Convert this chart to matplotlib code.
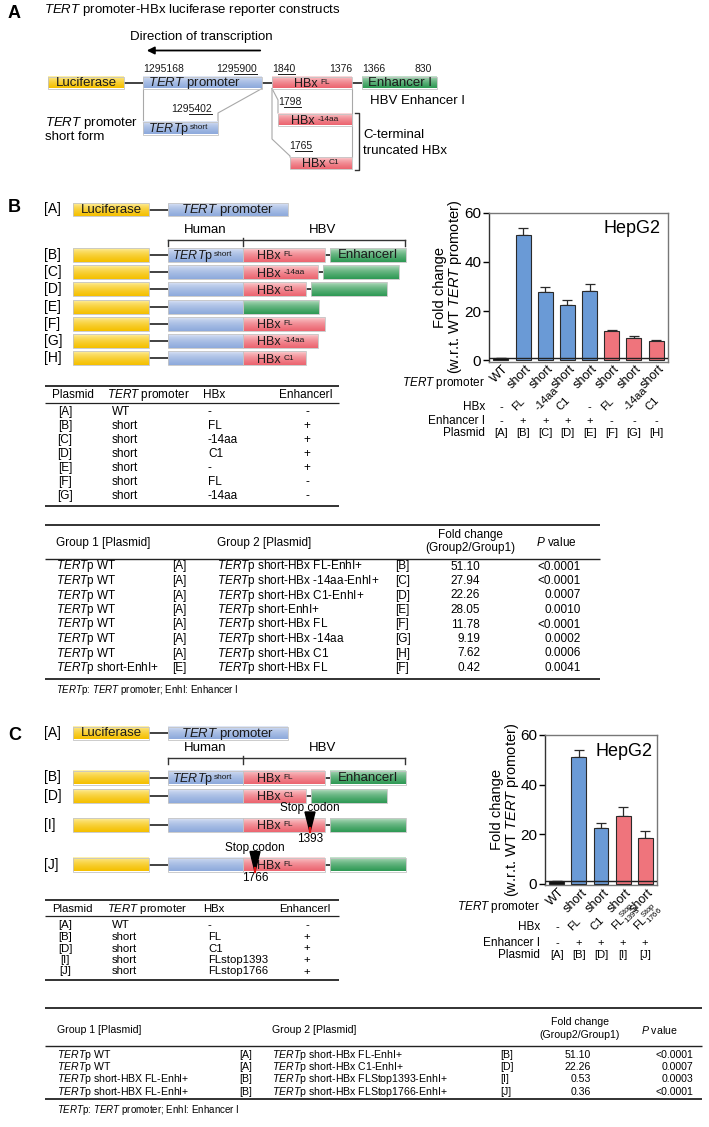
import numpy as np
import matplotlib.pyplot as plt
from matplotlib.patches import Rectangle
from matplotlib.colors import to_rgb
from matplotlib.transforms import blended_transform_factory, ScaledTranslation

plt.rcParams['font.family'] = ['Liberation Sans', 'DejaVu Sans']
plt.rcParams['mathtext.fontset'] = 'custom'
plt.rcParams['mathtext.rm'] = 'Liberation Sans'
plt.rcParams['mathtext.it'] = 'Liberation Sans:italic'
plt.rcParams['mathtext.bf'] = 'Liberation Sans:bold'

# ---------------- data ----------------
# panel B bar chart
b_plasmid = ['[A]', '[B]', '[C]', '[D]', '[E]', '[F]', '[G]', '[H]']
b_prom = ['WT', 'short', 'short', 'short', 'short', 'short', 'short', 'short']
b_hbx = ['-', 'FL', '-14aa', 'C1', '-', 'FL', '-14aa', 'C1']
b_enh = ['-', '+', '+', '+', '+', '-', '-', '-']
b_fold = [1.0, 51.10, 27.94, 22.26, 28.05, 11.78, 9.19, 7.62]
b_err = [0.1, 2.8, 1.65, 2.3, 3.05, 0.4, 0.5, 0.6]
b_col = ['wt', 'blue', 'blue', 'blue', 'blue', 'red', 'red', 'red']

# panel C bar chart
c_plasmid = ['[A]', '[B]', '[D]', '[I]', '[J]']
c_prom = ['WT', 'short', 'short', 'short', 'short']
c_hbx = ['-', 'FL', 'C1', r'FL$^{\rm Stop}_{\rm 1393}$', r'FL$^{\rm Stop}_{\rm 1766}$']
c_enh = ['-', '+', '+', '+', '+']
c_fold = [1.0, 51.10, 22.26, 27.08, 18.40]
c_err = [0.1, 2.8, 2.0, 4.0, 2.8]
c_col = ['wt', 'blue', 'blue', 'red', 'red']

# construct rows (diagrams)
rowsB = ['[B]', '[C]', '[D]', '[E]', '[F]', '[G]', '[H]']
hbxB = ['FL', '-14aa', 'C1', None, 'FL', '-14aa', 'C1']
enhB = [True, True, True, True, False, False, False]
rowsC = ['[B]', '[D]', '[I]', '[J]']
hbxC = ['FL', 'C1', 'FL', 'FL']
enhC = [True, True, True, True]
stopC = [None, None, 1393, 1766]
hbx_len = {'FL': 82, '-14aa': 75, 'C1': 63}

# plasmid tables
tb_plasmid = ['[A]', '[B]', '[C]', '[D]', '[E]', '[F]', '[G]']
tb_prom = ['WT', 'short', 'short', 'short', 'short', 'short', 'short']
tb_hbx = ['-', 'FL', '-14aa', 'C1', '-', 'FL', '-14aa']
tb_enh = ['-', '+', '+', '+', '+', '-', '-']

tc_plasmid = ['[A]', '[B]', '[D]', '[I]', '[J]']
tc_prom = ['WT', 'short', 'short', 'short', 'short']
tc_hbx = ['-', 'FL', 'C1', 'FLstop1393', 'FLstop1766']
tc_enh = ['-', '+', '+', '+', '+']

# comparison tables
gb_g1 = ['TERTp WT'] * 7 + ['TERTp short-EnhI+']
gb_p1 = ['[A]'] * 7 + ['[E]']
gb_g2 = ['TERTp short-HBx FL-EnhI+', 'TERTp short-HBx -14aa-EnhI+', 'TERTp short-HBx C1-EnhI+',
         'TERTp short-EnhI+', 'TERTp short-HBx FL', 'TERTp short-HBx -14aa',
         'TERTp short-HBx C1', 'TERTp short-HBx FL']
gb_p2 = ['[B]', '[C]', '[D]', '[E]', '[F]', '[G]', '[H]', '[F]']
gb_fold = [51.10, 27.94, 22.26, 28.05, 11.78, 9.19, 7.62, 0.42]
gb_pval = ['<0.0001', '<0.0001', '0.0007', '0.0010', '<0.0001', '0.0002', '0.0006', '0.0041']

gc_g1 = ['TERTp WT', 'TERTp WT', 'TERTp short-HBX FL-EnhI+', 'TERTp short-HBX FL-EnhI+']
gc_p1 = ['[A]', '[A]', '[B]', '[B]']
gc_g2 = ['TERTp short-HBx FL-EnhI+', 'TERTp short-HBx C1-EnhI+',
         'TERTp short-HBx FLStop1393-EnhI+', 'TERTp short-HBx FLStop1766-EnhI+']
gc_p2 = ['[B]', '[D]', '[I]', '[J]']
gc_fold = [51.10, 22.26, 0.53, 0.36]
gc_pval = ['<0.0001', '0.0007', '0.0003', '<0.0001']

PAL = {'yellow': ('#fff5b8', '#f5c000'), 'blue': ('#e6ecf9', '#8eaadc'),
       'red': ('#fde2e3', '#ec6570'), 'green': ('#cfe9d5', '#2f9a55')}
BAR = {'wt': '#111111', 'blue': '#6a9ad6', 'red': '#ef747c'}
TXT = '#1a1a1a'

fig = plt.figure(figsize=(7.09, 11.27), dpi=100)
ax = fig.add_axes([0, 0, 1, 1])
ax.set_xlim(0, 709)
ax.set_ylim(1127, 0)
R = fig.canvas.get_renderer()


def it(s):
    return s.replace('TERT', r'$\it{TERT}$')


def tw(t):
    return t.get_window_extent(R).width


def sup_text(x, y, base, sup, fs=9, ha='center', gap=3):
    # y is the visual middle of the capitals
    px = fs * 100 / 72
    yb = y + 0.358 * px
    t1 = ax.text(0, yb, base, fontsize=fs, va='baseline', ha='left', color=TXT, zorder=4)
    t2 = ax.text(0, yb - 0.716 * px * 0.34, sup, fontsize=fs * 0.66, va='baseline',
                 ha='left', color=TXT, zorder=4)
    w1, w2 = tw(t1), tw(t2)
    x0 = x - (w1 + gap + w2) / 2 if ha == 'center' else x
    t1.set_x(x0)
    t2.set_x(x0 + w1 + gap)


def box(x0, x1, yc, kind, h=13, label=None, fs=9, lx=None):
    hi, lo = PAL[kind]
    t = np.linspace(0, 1, 24)[:, None] ** 0.55
    img = (1 - t)[:, :, None] * np.array(to_rgb(hi)) + t[:, :, None] * np.array(to_rgb(lo))
    ax.imshow(img, extent=(x0, x1, yc + h / 2, yc - h / 2), aspect='auto',
              interpolation='bilinear', zorder=2)
    ax.add_patch(Rectangle((x0, yc - h / 2), x1 - x0, h, fill=False,
                           ec='#c4c4c4', lw=0.6, zorder=3))
    if label is None:
        return
    if isinstance(label, tuple):
        base, sup, gap = label
        if lx is None:
            sup_text((x0 + x1) / 2, yc, base, sup, fs, 'center', gap)
        else:
            sup_text(x0 + lx, yc, base, sup, fs, 'left', gap)
    elif lx is None:
        ax.text((x0 + x1) / 2, yc + 0.5, label, ha='center', va='center',
                fontsize=fs, color=TXT, zorder=4)
    else:
        ax.text(x0 + lx, yc + 0.5, label, ha='left', va='center',
                fontsize=fs, color=TXT, zorder=4)


def link(x0, x1, y):
    ax.plot([x0, x1], [y, y], color='#333333', lw=1.3, zorder=1)


def num(x, y, s, nul=0, ha='left'):
    t = ax.text(x, y, s, fontsize=7.5, ha=ha, va='center', color=TXT)
    if nul:
        bb = t.get_window_extent(R).transformed(ax.transData.inverted())
        w = (bb.x1 - bb.x0) / len(s)
        yb = max(bb.y0, bb.y1) - 0.5
        ax.plot([bb.x1 - nul * w, bb.x1], [yb, yb], color=TXT, lw=0.7)


def hbx_label(k):
    return ('HBx', k, 3)


TERTP_SHORT = (r'$\it{TERT}$p', 'short', 1)

# ---------------- panel A ----------------
ax.text(8, 13, 'A', fontsize=13, fontweight='bold', va='center')
ax.text(44, 10, r'$\it{TERT}$ promoter-HBx luciferase reporter constructs', fontsize=9.5, va='center')
ax.text(130, 37, 'Direction of transcription', fontsize=9.5, va='center')
ax.annotate('', xy=(144, 50.5), xytext=(263, 50.5),
            arrowprops=dict(arrowstyle='-|>', color='k', lw=1.3, mutation_scale=11))

ya = 82.5
link(124, 143, ya)
link(262, 272, ya)
link(352, 362, ya)
box(48, 124, ya, 'yellow', 12, 'Luciferase', 9.5)
box(143, 262, ya, 'blue', 12, r'$\it{TERT}$ promoter', 9.5, lx=5)
box(272, 352, ya, 'red', 12, hbx_label('FL'), 9)
box(362, 437, ya, 'green', 12, 'Enhancer I', 9.5)

num(143, 69, '1295168')
num(257, 69, '1295900', nul=4, ha='right')
num(272, 69, '1840', nul=3)
num(352, 69, '1376', ha='right')
num(362, 69, '1366')
num(432, 69, '830', ha='right')
ax.text(370, 101, 'HBV Enhancer I', fontsize=9.5, va='center')

gray = '#a8a8a8'
ax.plot([143, 143], [88.5, 121.5], color=gray, lw=0.8)
ax.plot([262, 218, 218], [88.5, 113, 121.5], color=gray, lw=0.8)
num(212, 109, '1295402', nul=4, ha='right')
box(143, 218, 128, 'blue', 13, TERTP_SHORT, 9, lx=5)
ax.text(45, 123, r'$\it{TERT}$ promoter', fontsize=9.5, va='center')
ax.text(45, 137, 'short form', fontsize=9.5, va='center')

ax.plot([272, 278, 278], [88.5, 100, 113], color=gray, lw=0.8)
ax.plot([272, 272, 290, 290], [88.5, 139, 156, 157], color=gray, lw=0.8)
ax.plot([352, 352], [88.5, 157], color=gray, lw=0.8)
num(278, 102, '1798', nul=3)
num(289, 146, '1765', nul=3)
box(278, 352, 119.5, 'red', 12, hbx_label('-14aa'), 9)
box(290, 352, 163, 'red', 12, hbx_label('C1'), 9)
ax.plot([355, 358.5, 358.5, 355], [112.5, 112.5, 169.5, 169.5], color='#333333', lw=1)
ax.text(363, 135, 'C-terminal', fontsize=9.5, va='center')
ax.text(363, 151, 'truncated HBx', fontsize=9.5, va='center')


# ---------------- construct rows (B and C) ----------------
def row_A(y):
    ax.text(44, y, '[A]', fontsize=10, va='center')
    link(149, 168, y)
    box(73, 149, y, 'yellow', 13, 'Luciferase', 9.5)
    box(168, 288, y, 'blue', 13, r'$\it{TERT}$ promoter', 9.5)


def bracket(y):
    ax.text(205, y - 10, 'Human', fontsize=9.5, ha='center', va='center')
    ax.text(323, y - 10, 'HBV', fontsize=9.5, ha='center', va='center')
    ax.plot([168, 405], [y, y], color='#333333', lw=1)
    for xx in (168, 405):
        ax.plot([xx, xx], [y, y + 6], color='#333333', lw=1)
    ax.plot([243, 243], [y - 2, y + 6], color='#333333', lw=1)


def construct(y, name, hbx, enh, first=False, stop=None):
    ax.text(44, y, name, fontsize=10, va='center')
    link(149, 168, y)
    box(73, 149, y, 'yellow', 14)
    box(168, 243, y, 'blue', 14, TERTP_SHORT if first else None, 9, lx=4)
    x = 243
    if hbx is not None:
        xe = 243 + hbx_len[hbx]
        box(243, xe, y, 'red', 14, hbx_label(hbx), 9, lx=14)
        x = xe
        if enh:
            link(xe, xe + 5, y)
            x = xe + 5
    if enh:
        box(x, x + 76, y, 'green', 14, 'EnhancerI' if first else None, 9.5)
    if stop is not None:
        sx = {1393: 310, 1766: 255}[stop]
        ax.fill([sx - 5, sx + 5, sx], [y - 13, y - 13, y + 7], color='k', zorder=5)
        ax.plot([sx, sx], [y + 3, y + 7], color='#e01010', lw=1.6, zorder=6)
        ax.text(sx, y - 17, 'Stop codon', fontsize=8.5, ha='center', va='center')
        ax.text(sx, y + 13.5, str(stop), fontsize=8.5, ha='center', va='center')


ax.text(8, 208, 'B', fontsize=13, fontweight='bold', va='center')
row_A(209.5)
bracket(240)
for i, (nm, hb, en) in enumerate(zip(rowsB, hbxB, enhB)):
    construct(255 + 17.2 * i, nm, hb, en, first=(i == 0))

ax.text(8, 735, 'C', fontsize=13, fontweight='bold', va='center')
row_A(733)
bracket(758)
yC = [777.5, 796, 825, 864.5]
for i, (nm, hb, en, st) in enumerate(zip(rowsC, hbxC, enhC, stopC)):
    construct(yC[i], nm, hb, en, first=(i == 0), stop=st)


# ---------------- tables ----------------
def plasmid_table(y_top, y_head, y_line, y_rows, y_bot, pl, pr, hb, en, fs=8.5):
    ax.hlines([y_top, y_bot], 45, 339, color='#222222', lw=1.3)
    ax.hlines(y_line, 45, 339, color='#222222', lw=0.9)
    ax.text(52, y_head, 'Plasmid', fontsize=fs, va='center')
    ax.text(107, y_head, r'$\it{TERT}$ promoter', fontsize=fs, va='center')
    ax.text(203, y_head, 'HBx', fontsize=fs, va='center')
    ax.text(279, y_head, 'EnhancerI', fontsize=fs, va='center')
    for y, a, b, c, d in zip(y_rows, pl, pr, hb, en):
        ax.text(65, y, a, fontsize=fs, va='center', ha='center')
        ax.text(112, y, b, fontsize=fs, va='center')
        ax.text(208, y, c, fontsize=fs, va='center')
        ax.text(307, y, d, fontsize=fs, va='center', ha='center')


plasmid_table(386, 395, 403, [411.7 + 14.05 * i for i in range(7)], 505.5,
              tb_plasmid, tb_prom, tb_hbx, tb_enh)
plasmid_table(900, 908.5, 916, [925.5 + 11.5 * i for i in range(5)], 980,
              tc_plasmid, tc_prom, tc_hbx, tc_enh, fs=8.2)


def group_table(y_top, y_head, y_line, y_rows, y_bot, y_foot, cols, x_end,
                g1, p1, g2, p2, fold, pval, fs=8.5):
    ax.hlines([y_top, y_bot], 45, x_end, color='#222222', lw=1.3)
    ax.hlines(y_line, 45, x_end, color='#222222', lw=1.0)
    c1, cp1, c2, cp2, cf, cfh, cpv, cpr = cols
    ax.text(c1, y_head, 'Group 1 [Plasmid]', fontsize=fs, va='center')
    ax.text(c2, y_head, 'Group 2 [Plasmid]', fontsize=fs, va='center')
    ax.text(cfh, y_head - 8, 'Fold change', fontsize=fs, va='center', ha='center')
    ax.text(cfh, y_head + 5, '(Group2/Group1)', fontsize=fs, va='center', ha='center')
    ax.text(cpv, y_head, r'$\it{P}$ value', fontsize=fs, va='center')
    for y, a, b, c, d, e, f in zip(y_rows, g1, p1, g2, p2, fold, pval):
        ax.text(c1, y, it(a), fontsize=fs, va='center')
        ax.text(cp1, y, b, fontsize=fs, va='center')
        ax.text(c2, y, it(c), fontsize=fs, va='center')
        ax.text(cp2, y, d, fontsize=fs, va='center')
        ax.text(cf, y, f'{e:.2f}', fontsize=fs, va='center', ha='right')
        ax.text(cpr, y, f, fontsize=fs, va='center', ha='right')
    ax.text(c1, y_foot, r'$\it{TERT}$p: $\it{TERT}$ promoter; EnhI: Enhancer I',
            fontsize=7, va='center')


group_table(525, 543, 559, [566.5 + 14.5 * i for i in range(8)], 678.5, 690,
            (56, 172, 217, 395, 480, 470, 536, 581), 600,
            gb_g1, gb_p1, gb_g2, gb_p2, gb_fold, gb_pval)
group_table(1008, 1030, 1046, [1054.5 + 12.4 * i for i in range(4)], 1099, 1110,
            (57, 239, 272, 500, 591, 580, 641, 693), 702,
            gc_g1, gc_p1, gc_g2, gc_p2, gc_fold, gc_pval, fs=7.6)


# ---------------- bar charts ----------------
def bar_chart(left, right, top, bottom, fold, err, cols, prom, hbx, enh, plas,
              ylab_x, lab_x, y_prom, y_hbx, y_enh, y_pl):
    W, H = 709.0, 1127.0
    axc = fig.add_axes([left / W, 1 - bottom / H, (right - left) / W, (bottom - top) / H])
    n = len(fold)
    x = np.arange(n)
    axc.bar(x, fold, width=0.68, color=[BAR[c] for c in cols], edgecolor='#2a2a2a',
            lw=0.8, zorder=3)
    axc.errorbar(x, fold, yerr=[np.zeros(n), err], fmt='none', ecolor='#2a2a2a',
                 elinewidth=0.9, capsize=3.5, capthick=0.9, zorder=2)
    axc.axhline(1, color='#222222', lw=1, zorder=4)
    axc.set_xlim(-0.54, n - 0.46)
    axc.set_ylim(-0.6, 60)
    axc.set_yticks([0, 20, 40, 60])
    axc.tick_params(axis='y', labelsize=11, length=4, width=1, pad=1.5)
    axc.set_xticks(x)
    axc.set_xticklabels(prom, rotation=45, ha='right', va='center',
                        rotation_mode='anchor', fontsize=9)
    axc.tick_params(axis='x', length=0, pad=4)
    shift = ScaledTranslation(0.06, 0, fig.dpi_scale_trans)
    for lab in axc.get_xticklabels():
        lab.set_transform(lab.get_transform() + shift)
    for s in axc.spines.values():
        s.set_color('#777777')
        s.set_linewidth(1)
    axc.spines['left'].set_color('#333333')
    axc.text(0.96, 0.95, 'HepG2', transform=axc.transAxes, ha='right', va='top', fontsize=13)
    yc = (top + bottom) / 2
    ax.text(ylab_x, yc, 'Fold change', rotation=90, ha='center', va='center', fontsize=10.5)
    ax.text(ylab_x + 15, yc, r'(w.r.t. WT $\it{TERT}$ promoter)', rotation=90,
            ha='center', va='center', fontsize=10.5)
    T = blended_transform_factory(axc.transData, ax.transData)
    ax.text(lab_x, y_prom, r'$\it{TERT}$ promoter', ha='right', va='center', fontsize=8.5)
    ax.text(lab_x, y_hbx, 'HBx', ha='right', va='center', fontsize=8.5)
    ax.text(lab_x, y_enh, 'Enhancer I', ha='right', va='center', fontsize=8.5)
    ax.text(lab_x, y_pl, 'Plasmid', ha='right', va='center', fontsize=8.5)
    for i in range(n):
        if hbx[i] == '-':
            ax.text(i, y_hbx, '-', transform=T, ha='center', va='center', fontsize=8)
        else:
            ax.text(i - 0.3, y_hbx + 4, hbx[i], transform=T, rotation=45, ha='left',
                    va='baseline', rotation_mode='anchor', fontsize=8)
        ax.text(i, y_enh, enh[i], transform=T, ha='center', va='center', fontsize=8)
        ax.text(i, y_pl, plas[i], transform=T, ha='center', va='center', fontsize=8)


bar_chart(489, 668, 212.7, 361.7, b_fold, b_err, b_col, b_prom, b_hbx, b_enh, b_plasmid,
          440, 485, 383, 407, 421, 433)
bar_chart(545, 657, 735, 885, c_fold, c_err, c_col, c_prom, c_hbx, c_enh, c_plasmid,
          497, 540, 907, 927, 943, 955)

ax.set_xlim(0, 709)
ax.set_ylim(1127, 0)
ax.axis('off')
fig.savefig('out.png', dpi=100)
